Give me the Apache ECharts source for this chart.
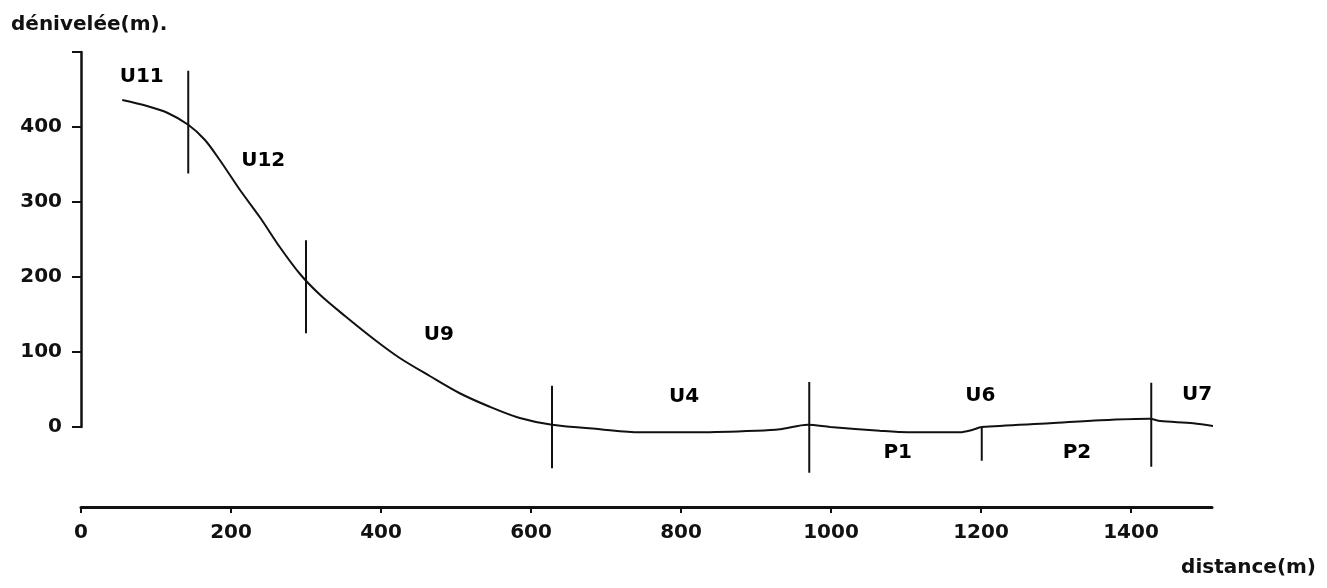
<!DOCTYPE html>
<html>
<head>
<meta charset="utf-8">
<script src="https://cdn.jsdelivr.net/npm/echarts@6/dist/echarts.min.js"></script>
<style>html,body{margin:0;padding:0;background:#fff;}#c{width:1327px;height:588px;}</style>
</head>
<body>
<div id="c"></div>
<script>
// profile distance (m) and elevation difference (m)
const distance = [55, 88, 115, 143, 165, 185, 212, 239, 265, 292, 319, 352, 392, 425, 465, 505, 545, 585, 628, 692, 745, 825, 901, 932, 969, 999, 1065, 1103, 1172, 1188, 1201, 1292, 1359, 1425, 1439, 1483, 1519];
const elevation = [436, 428, 419, 403, 383, 356, 316, 279, 240, 204, 176, 148, 116, 92, 68, 45, 27, 12, 3, -3, -7, -7, -5, -3, 3, 0, -5, -7, -7, -4, 0, 5, 9, 11, 8, 5, 0];

// unit boundaries (vertical marks)
const boundaryX = [143, 300, 628, 971, 1201, 1427];
const boundaryTop = [475, 249, 55, 60, 0, 59];
const boundaryBottom = [338, 125, -55, -61, -45, -53];

// unit labels
const unitNames = ['U11', 'U12', 'U9', 'U4', 'U6', 'U7', 'P1', 'P2'];
const unitX = [81, 243, 477, 804, 1199, 1488, 1089, 1328];
const unitY = [467, 355, 123, 40, 41, 43, -35, -35];

// axis ticks
const xTicks = [0, 200, 400, 600, 800, 1000, 1200, 1400];
const yTicks = [0, 100, 200, 300, 400, 500];
const yLabels = [0, 100, 200, 300, 400];

const FONT = 'DejaVu Sans';
const INK = '#111';

const profile = distance.map((d, i) => [d, elevation[i]]);

const boundarySeries = boundaryX.map((x, i) => ({
  type: 'line',
  data: [[x, boundaryTop[i]], [x, boundaryBottom[i]]],
  symbol: 'none',
  clip: false,
  silent: true,
  lineStyle: { color: INK, width: 2 }
}));

const chart = echarts.init(document.getElementById('c'), null, { renderer: 'canvas' });
chart.setOption({
  animation: false,
  backgroundColor: '#fff',
  title: [
    { text: 'dénivelée(m).', left: 6, top: 10,
      textStyle: { fontFamily: FONT, fontWeight: 'bold', fontSize: 20, color: INK } },
    { text: 'distance(m)', right: 6, top: 553,
      textStyle: { fontFamily: FONT, fontWeight: 'bold', fontSize: 20, color: INK } }
  ],
  grid: { left: 81, right: 115, top: 52, bottom: 161, containLabel: false },
  xAxis: {
    type: 'value', min: 0, max: 1508, interval: 200,
    position: 'bottom', offset: 80,
    axisLine: { show: true, onZero: false, lineStyle: { color: INK, width: 3 } },
    axisTick: { show: true, length: 6, customValues: xTicks, lineStyle: { color: INK, width: 2 } },
    axisLabel: { margin: 16, customValues: xTicks, formatter: v => String(v),
      fontFamily: FONT, fontWeight: 'bold', fontSize: 20, color: INK },
    splitLine: { show: false }
  },
  yAxis: {
    type: 'value', min: 0, max: 500, interval: 100,
    axisLine: { show: true, onZero: false, lineStyle: { color: INK, width: 2.5 } },
    axisTick: { show: true, length: 9, customValues: yTicks, lineStyle: { color: INK, width: 2 } },
    axisLabel: { margin: 19, customValues: yLabels, formatter: v => String(v),
      fontFamily: FONT, fontWeight: 'bold', fontSize: 20, color: INK },
    splitLine: { show: false }
  },
  series: [
    {
      type: 'line',
      data: profile,
      smooth: 0.3,
      symbol: 'none',
      clip: false,
      lineStyle: { color: INK, width: 2 }
    },
    ...boundarySeries,
    {
      type: 'scatter',
      data: unitNames.map((n, i) => ({ name: n, value: [unitX[i], unitY[i]] })),
      symbolSize: 0,
      clip: false,
      silent: true,
      itemStyle: { color: INK, opacity: 1 },
      label: {
        show: true, position: 'inside', formatter: '{b}', opacity: 1,
        textBorderWidth: 0,
        fontFamily: FONT, fontWeight: 'bold', fontSize: 20, color: '#000'
      }
    }
  ]
});
</script>
</body>
</html>
